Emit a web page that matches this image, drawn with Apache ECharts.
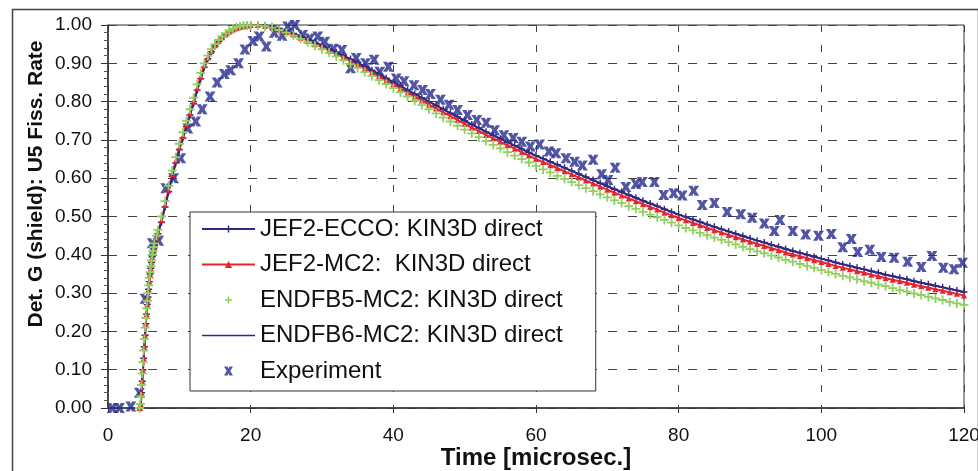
<!DOCTYPE html>
<html>
<head>
<meta charset="utf-8">
<script src="https://cdn.jsdelivr.net/npm/echarts@6/dist/echarts.min.js"></script>
<style>
  html, body { margin: 0; padding: 0; background: #fff; }
  #fission-echart { width: 978px; height: 471px; }
</style>
</head>
<body>
<div id="fission-echart"></div>
<script>
// time grid of the calculations [microsec.]
const tModel = [
  4.4, 4.5, 4.6, 4.7, 4.8, 4.9, 5, 5.1, 5.2, 5.3, 5.4, 5.5, 5.6, 5.7, 5.8, 5.9, 6, 6.1, 6.2, 6.3, 6.4, 6.5, 6.8,
  7, 7.5, 8, 8.5, 9, 9.5, 10, 10.5, 11, 11.5, 12, 12.5, 13, 13.5, 14, 14.5, 15, 15.5, 16, 16.5, 17, 17.5, 18, 18.5, 19, 19.5, 20,
  21, 22, 23, 24, 25, 26, 27, 28, 29, 30, 31, 32, 33, 34, 35, 36, 37, 38, 39, 40,
  41, 42, 43, 44, 45, 46, 47, 48, 49, 50, 51, 52, 53, 54, 55, 56, 57, 58, 59, 60,
  61, 62, 63, 64, 65, 66, 67, 68, 69, 70, 71, 72, 73, 74, 75, 76, 77, 78, 79, 80,
  81, 82, 83, 84, 85, 86, 87, 88, 89, 90, 91, 92, 93, 94, 95, 96, 97, 98, 99, 100,
  101, 102, 103, 104, 105, 106, 107, 108, 109, 110, 111, 112, 113, 114, 115, 116, 117, 118, 119, 120
];

const jef2Ecco = [
  0, 0, 0.01, 0.04, 0.07, 0.10, 0.13, 0.16, 0.19, 0.22, 0.245, 0.27, 0.29, 0.31, 0.33, 0.35, 0.365, 0.38, 0.395, 0.405, 0.415, 0.425, 0.44,
  0.455, 0.485, 0.525, 0.565, 0.605, 0.64, 0.675, 0.705, 0.735, 0.765, 0.795, 0.83, 0.86, 0.89, 0.912, 0.93, 0.945, 0.957, 0.967, 0.975, 0.982, 0.987, 0.991, 0.994, 0.997, 0.999, 1.0,
  1.0, 0.999, 0.996, 0.991, 0.985, 0.978, 0.971, 0.963, 0.955, 0.947, 0.938, 0.929, 0.920, 0.911, 0.901, 0.892, 0.882, 0.872, 0.861, 0.851,
  0.841, 0.830, 0.820, 0.810, 0.800, 0.790, 0.780, 0.770, 0.760, 0.750, 0.740, 0.731, 0.721, 0.712, 0.703, 0.694, 0.685, 0.676, 0.667, 0.659,
  0.651, 0.643, 0.635, 0.627, 0.619, 0.611, 0.603, 0.595, 0.587, 0.579, 0.571, 0.564, 0.556, 0.549, 0.541, 0.534, 0.527, 0.519, 0.512, 0.505,
  0.499, 0.492, 0.486, 0.479, 0.473, 0.467, 0.461, 0.455, 0.449, 0.443, 0.437, 0.432, 0.426, 0.421, 0.415, 0.410, 0.405, 0.400, 0.395, 0.390,
  0.385, 0.380, 0.375, 0.371, 0.366, 0.362, 0.357, 0.353, 0.348, 0.344, 0.340, 0.336, 0.331, 0.327, 0.323, 0.319, 0.315, 0.311, 0.307, 0.303
];

const jef2Mc2 = [
  0, 0, 0.01, 0.04, 0.07, 0.10, 0.13, 0.16, 0.19, 0.22, 0.245, 0.27, 0.29, 0.31, 0.33, 0.35, 0.365, 0.38, 0.395, 0.405, 0.415, 0.425, 0.445,
  0.46, 0.49, 0.53, 0.57, 0.61, 0.645, 0.68, 0.71, 0.74, 0.77, 0.80, 0.835, 0.865, 0.895, 0.915, 0.932, 0.947, 0.958, 0.968, 0.976, 0.983, 0.988, 0.992, 0.995, 0.997, 0.999, 1.0,
  1.0, 0.998, 0.994, 0.988, 0.982, 0.975, 0.967, 0.959, 0.950, 0.942, 0.933, 0.924, 0.915, 0.905, 0.896, 0.886, 0.876, 0.866, 0.855, 0.845,
  0.834, 0.824, 0.813, 0.803, 0.792, 0.782, 0.772, 0.762, 0.752, 0.742, 0.732, 0.723, 0.713, 0.704, 0.695, 0.686, 0.677, 0.668, 0.659, 0.650,
  0.642, 0.634, 0.626, 0.618, 0.610, 0.602, 0.594, 0.586, 0.578, 0.570, 0.562, 0.555, 0.547, 0.540, 0.532, 0.525, 0.518, 0.510, 0.503, 0.496,
  0.490, 0.483, 0.477, 0.470, 0.464, 0.458, 0.452, 0.446, 0.440, 0.434, 0.428, 0.423, 0.417, 0.412, 0.406, 0.401, 0.396, 0.391, 0.386, 0.381,
  0.376, 0.371, 0.366, 0.362, 0.357, 0.353, 0.348, 0.344, 0.339, 0.335, 0.331, 0.327, 0.322, 0.318, 0.314, 0.310, 0.306, 0.302, 0.298, 0.294
];

const endfb5Mc2 = [
  0, 0.01, 0.03, 0.06, 0.09, 0.12, 0.15, 0.18, 0.21, 0.235, 0.26, 0.28, 0.30, 0.32, 0.34, 0.355, 0.37, 0.385, 0.40, 0.41, 0.42, 0.43, 0.45,
  0.465, 0.50, 0.54, 0.58, 0.62, 0.655, 0.69, 0.72, 0.75, 0.78, 0.81, 0.845, 0.875, 0.90, 0.92, 0.937, 0.95, 0.961, 0.97, 0.978, 0.985, 0.99, 0.994, 0.996, 0.998, 0.999, 0.999,
  0.999, 0.997, 0.993, 0.987, 0.980, 0.972, 0.964, 0.955, 0.946, 0.937, 0.928, 0.918, 0.908, 0.898, 0.888, 0.877, 0.867, 0.856, 0.846, 0.835,
  0.824, 0.813, 0.802, 0.791, 0.780, 0.769, 0.758, 0.748, 0.737, 0.727, 0.717, 0.707, 0.697, 0.687, 0.678, 0.668, 0.659, 0.650, 0.641, 0.632,
  0.623, 0.615, 0.606, 0.598, 0.590, 0.582, 0.574, 0.566, 0.558, 0.550, 0.542, 0.535, 0.527, 0.520, 0.512, 0.505, 0.498, 0.491, 0.484, 0.477,
  0.470, 0.464, 0.457, 0.451, 0.445, 0.439, 0.433, 0.427, 0.421, 0.415, 0.409, 0.404, 0.398, 0.393, 0.387, 0.382, 0.376, 0.371, 0.366, 0.360,
  0.355, 0.350, 0.345, 0.341, 0.336, 0.331, 0.327, 0.322, 0.318, 0.313, 0.308, 0.304, 0.299, 0.295, 0.290, 0.286, 0.282, 0.277, 0.273, 0.269
];

// ENDFB6 only drawn as a line, coarser grid
const tEndfb6 = [4.4, 4.6, 4.8, 5, 5.2, 5.4, 5.6, 5.8, 6, 6.3, 6.6, 7, 8, 9, 10, 11, 12, 13, 14, 15, 16, 17, 18, 19, 20,
  21, 22, 24, 26, 28, 30, 33, 36, 40, 45, 50, 55, 60, 65, 70, 75, 80, 85, 90, 95, 100, 105, 110, 115, 120];
const endfb6Mc2 = [0, 0.01, 0.07, 0.13, 0.19, 0.245, 0.29, 0.33, 0.365, 0.405, 0.432, 0.455, 0.525, 0.605, 0.675, 0.735, 0.795, 0.86, 0.912, 0.945, 0.967, 0.982, 0.991, 0.997, 1.0,
  1.0, 0.999, 0.991, 0.978, 0.963, 0.947, 0.92, 0.892, 0.851, 0.80, 0.75, 0.703, 0.659, 0.619, 0.579, 0.541, 0.505, 0.473, 0.443, 0.415, 0.39, 0.366, 0.344, 0.323, 0.303];

const tExp = [0.6, 1.6, 3.2, 4.4, 5.2, 6.2, 7.1, 8.1, 9.2, 10.2, 11.2, 12.3, 13.2, 14.3, 15.3, 16.3, 17.2, 18.3, 19.2, 20.3,
  21.2, 22.2, 23.3, 24.4, 25.2, 26.2, 27.3, 28.3, 29.4, 30.4, 31.6, 32.8, 34.0, 34.8, 36.1, 37.3, 38.1, 39.3, 40.4, 41.5,
  42.9, 44.1, 45.2, 46.6, 47.8, 49.0, 50.4, 51.7, 53.0, 54.2, 55.5, 56.8, 58.0, 59.2, 60.5, 61.8, 62.8, 64.2, 65.4, 66.5,
  68.0, 69.2, 70.1, 71.1, 72.6, 74.0, 74.9, 76.6, 77.9, 79.3, 80.5, 82.1, 83.3, 85.0, 86.8, 88.7, 90.3, 92.0, 93.4, 94.2,
  96.0, 97.8, 99.6, 101.4, 103.0, 104.2, 105.1, 106.8, 108.4, 110.2, 112.1, 114.0, 115.5, 117.1, 118.6, 119.8];
const vExp = [0, 0, 0.004, 0.04, 0.285, 0.43, 0.437, 0.574, 0.60, 0.652, 0.73, 0.748, 0.78, 0.813, 0.85, 0.872, 0.882, 0.90, 0.936, 0.958,
  0.970, 0.944, 0.980, 0.972, 0.996, 1.0, 0.974, 0.965, 0.970, 0.956, 0.938, 0.935, 0.887, 0.914, 0.900, 0.909, 0.878, 0.891, 0.860, 0.853,
  0.843, 0.830, 0.820, 0.805, 0.792, 0.778, 0.765, 0.752, 0.745, 0.725, 0.712, 0.705, 0.695, 0.683, 0.688, 0.670, 0.665, 0.652, 0.643, 0.633,
  0.648, 0.610, 0.595, 0.627, 0.577, 0.585, 0.590, 0.590, 0.556, 0.561, 0.555, 0.567, 0.530, 0.535, 0.512, 0.506, 0.497, 0.482, 0.462, 0.491,
  0.462, 0.453, 0.450, 0.454, 0.420, 0.441, 0.407, 0.413, 0.394, 0.392, 0.382, 0.368, 0.397, 0.366, 0.362, 0.379];

const seriesNames = ['JEF2-ECCO: KIN3D direct', 'JEF2-MC2:  KIN3D direct', 'ENDFB5-MC2: KIN3D direct', 'ENDFB6-MC2: KIN3D direct', 'Experiment'];

const pair = (xs, ys) => xs.map((x, i) => [x, ys[i]]);

const FONT = '"Liberation Sans", Arial, sans-serif';
const NAVY = '#2c2a84';
const PLUS = 'path://M4,0H6V4H10V6H6V10H4V6H0V4H4Z';
const CROSS = 'path://M0,0H4L5,2.5L6,0H10L7,5L10,10H6L5,7.5L4,10H0L3,5Z';
const THIN_LINE = 'path://M0,0H100V3H0Z';

const chart = echarts.init(document.getElementById('fission-echart'));
chart.setOption({
  animation: false,
  backgroundColor: '#fff',
  grid: {
    left: 108, right: 14, top: 25, bottom: 63,
    outerBoundsMode: 'none',
    show: true, borderColor: '#333', borderWidth: 1
  },
  legend: {
    orient: 'vertical',
    left: 190, top: 212,
    padding: [5, 33, 8, 11],
    itemWidth: 53, itemHeight: 9, itemGap: 11.5,
    backgroundColor: '#fff', borderColor: '#333', borderWidth: 1,
    textStyle: { fontSize: 24, color: '#111', fontFamily: FONT },
    data: [
      seriesNames[0], seriesNames[1], seriesNames[2],
      { name: seriesNames[3], icon: THIN_LINE },
      seriesNames[4]
    ]
  },
  xAxis: {
    type: 'value', min: 0, max: 120, interval: 20,
    name: 'Time [microsec.]', nameLocation: 'middle', nameGap: 38, nameMoveOverlap: false,
    nameTextStyle: { fontSize: 24, fontWeight: 'bold', color: '#111', fontFamily: FONT },
    axisLine: { lineStyle: { color: '#333', width: 1.5 } },
    axisTick: { length: 5, lineStyle: { color: '#333' } },
    axisLabel: { fontSize: 19, color: '#111', margin: 18, fontFamily: FONT },
    splitLine: { show: true, lineStyle: { color: '#444', type: [7, 13], width: 1 } }
  },
  yAxis: {
    type: 'value', min: 0, max: 1, interval: 0.1,
    axisLine: { show: true, lineStyle: { color: '#333', width: 1.5 } },
    axisTick: { show: true, length: 7, lineStyle: { color: '#333' } },
    minorTick: { show: true, splitNumber: 5, length: 4, lineStyle: { color: '#555' } },
    axisLabel: { fontSize: 19, color: '#111', margin: 16, fontFamily: FONT, formatter: v => v.toFixed(2) },
    splitLine: { show: true, lineStyle: { color: '#444', type: [9, 11], width: 1 } }
  },
  graphic: [
    {
      type: 'rect', left: 10, top: 7, z: -1,
      shape: { width: 966, height: 470 },
      style: { fill: 'none', stroke: '#444', lineWidth: 1.5 }
    },
    {
      type: 'text', x: 36, y: 184, rotation: Math.PI / 2,
      style: {
        text: 'Det. G (shield): U5 Fiss. Rate', align: 'center', verticalAlign: 'middle',
        font: 'bold 21px ' + FONT, fill: '#111'
      }
    }
  ],
  series: [
    {
      name: seriesNames[0], type: 'line', data: pair(tModel, jef2Ecco),
      symbol: PLUS, symbolSize: 7, showAllSymbol: true,
      itemStyle: { color: NAVY }, lineStyle: { color: NAVY, width: 2 }
    },
    {
      name: seriesNames[1], type: 'line', data: pair(tModel, jef2Mc2),
      symbol: 'triangle', symbolSize: 6, showAllSymbol: true,
      itemStyle: { color: '#e8232e' }, lineStyle: { color: '#e8232e', width: 2 }
    },
    {
      name: seriesNames[2], type: 'line', data: pair(tModel, endfb5Mc2),
      symbol: PLUS, symbolSize: 9, showAllSymbol: true,
      itemStyle: { color: '#8fd05f' }, lineStyle: { opacity: 0 }
    },
    {
      name: seriesNames[3], type: 'line', data: pair(tEndfb6, endfb6Mc2),
      symbol: 'none',
      itemStyle: { color: NAVY }, lineStyle: { color: NAVY, width: 1.5 }
    },
    {
      name: seriesNames[4], type: 'scatter', data: pair(tExp, vExp),
      symbol: CROSS, symbolSize: [11, 10],
      itemStyle: { color: '#262a8c' }
    }
  ]
});
window.addEventListener('resize', () => {
  chart.resize();
});
</script>
</body>
</html>
